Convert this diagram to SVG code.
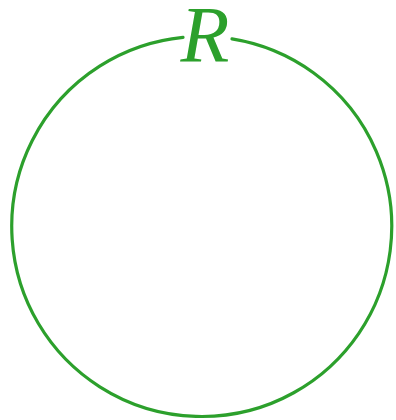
<svg xmlns="http://www.w3.org/2000/svg" width="396" height="420" viewBox="0 0 396 420">
<style>
.ring{fill:none;stroke:#2ca02c;stroke-width:3.2;stroke-linecap:round}
.lbl{font-family:"Liberation Serif","DejaVu Serif",serif;font-style:italic;font-size:80px;fill:#2ca02c}
</style>
<rect width="396" height="420" fill="#ffffff"/>
<g id="circle-R">
<path class="ring" d="M183,37.4 A190,190 0 1 0 232,38.9"/>
<text class="lbl" x="205" y="62" text-anchor="middle">R</text>
</g>
</svg>
